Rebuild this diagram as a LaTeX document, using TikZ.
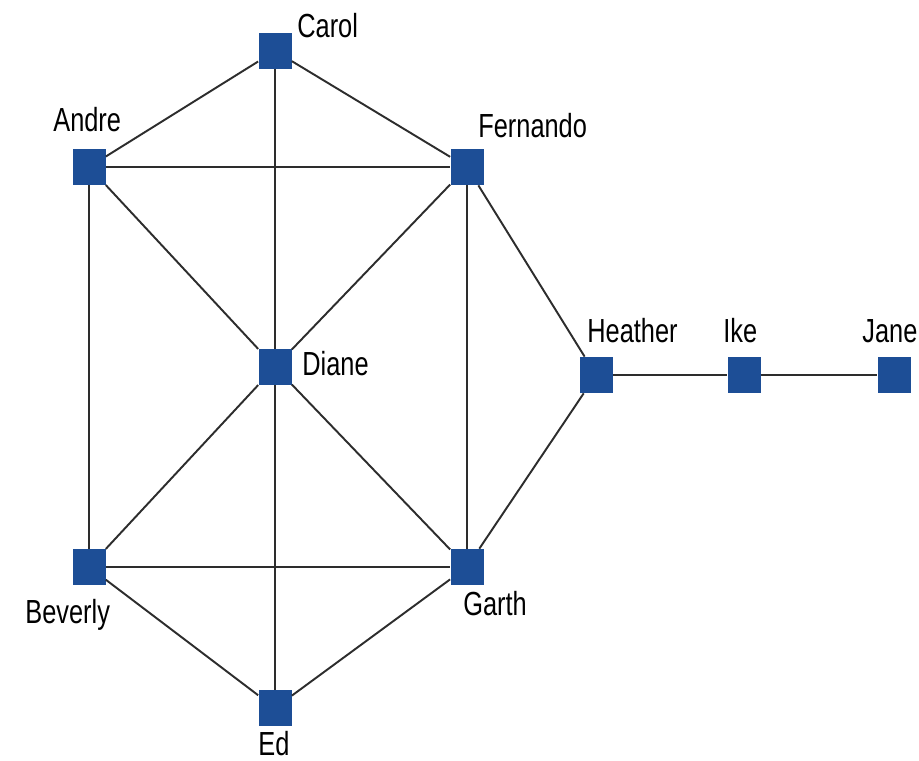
\documentclass[tikz,border=0pt]{standalone}
\usepackage{fontspec}
\setmainfont{Liberation Sans}[FakeStretch=0.76]
\definecolor{kiteblue}{RGB}{29,78,150}
\definecolor{edgegray}{RGB}{45,45,45}
\tikzset{
    person/.style={rectangle, fill=kiteblue, minimum width=0.66cm, minimum height=0.72cm, inner sep=0pt},
    tag/.style={anchor=base west, inner sep=0pt, font=\fontsize{19}{22}\selectfont},
    tie/.style={draw=edgegray, line width=1.1pt}
}
\begin{document}
\begin{tikzpicture}
        \useasboundingbox (0,0) rectangle (18.38,15.2);
        \node[person] (carol) at (5.50,14.18){};
        \node[person] (andre) at (1.78,11.86){};
        \node[person] (fernando) at (9.34,11.86){};
        \node[person] (diane) at (5.50,7.86){};
        \node[person] (heather) at (11.92,7.70){};
        \node[person] (ike) at (14.88,7.70){};
        \node[person] (jane) at (17.88,7.70){};
        \node[person] (beverly) at (1.78,3.86){};
        \node[person] (garth) at (9.34,3.86){};
        \node[person] (ed) at (5.50,1.04){};
        \node[tag] (lcarol) at (5.94,14.44){Carol};
        \node[tag] (landre) at (1.06,12.56){Andre};
        \node[tag] (lfernando) at (9.56,12.44){Fernando};
        \node[tag] (ldiane) at (6.04,7.70){Diane};
        \node[tag] (lheather) at (11.74,8.36){Heather};
        \node[tag] (like) at (14.46,8.36){Ike};
        \node[tag] (ljane) at (17.24,8.36){Jane};
        \node[tag] (lbeverly) at (0.50,2.74){Beverly};
        \node[tag] (lgarth) at (9.26,2.90){Garth};
        \node[tag] (led) at (5.16,0.10){Ed};
        \draw[tie] (carol) -- (andre);
        \draw[tie] (carol) -- (fernando);
        \draw[tie] (carol) -- (diane);
        \draw[tie] (andre) -- (fernando);
        \draw[tie] (andre) -- (diane);
        \draw[tie] (andre) -- (beverly);
        \draw[tie] (fernando) -- (diane);
        \draw[tie] (fernando) -- (garth);
        \draw[tie] (fernando) -- (heather);
        \draw[tie] (diane) -- (beverly);
        \draw[tie] (diane) -- (garth);
        \draw[tie] (diane) -- (ed);
        \draw[tie] (beverly) -- (garth);
        \draw[tie] (beverly) -- (ed);
        \draw[tie] (garth) -- (ed);
        \draw[tie] (garth) -- (heather);
        \draw[tie] (heather) -- (ike);
        \draw[tie] (ike) -- (jane);
    \end{tikzpicture}
\end{document}
